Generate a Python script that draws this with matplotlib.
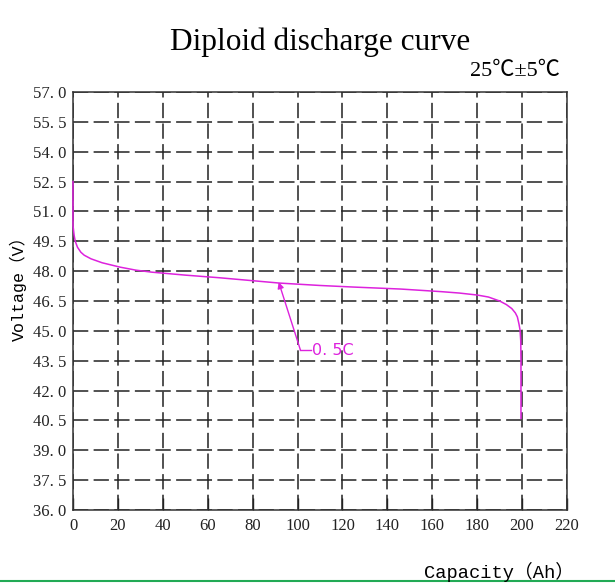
import matplotlib
matplotlib.use("Agg")
import matplotlib.pyplot as plt
from matplotlib.lines import Line2D
import numpy as np

# discharge curve (Ah, V)
capacity = [0, 0, 0.5, 1, 2, 3.5, 5, 8, 13, 21, 28, 35, 50, 65, 80, 92,
            110, 125, 146, 164, 172, 180, 185, 190, 193, 195.4, 197, 197.9,
            198.6, 199.1, 199.4, 199.5, 199.5]
voltage = [52.5, 50.3, 49.8, 49.5, 49.2, 48.95, 48.8, 48.62, 48.42, 48.2,
           48.05, 47.95, 47.8, 47.67, 47.52, 47.4, 47.28, 47.2, 47.1, 46.97,
           46.9, 46.8, 46.7, 46.5, 46.32, 46.12, 45.9, 45.7, 45.35, 45.04,
           44.5, 43.5, 40.6]

x_ticks = [0, 20, 40, 60, 80, 100, 120, 140, 160, 180, 200, 220]
y_ticks = [36.0, 37.5, 39.0, 40.5, 42.0, 43.5, 45.0, 46.5, 48.0, 49.5,
           51.0, 52.5, 54.0, 55.5, 57.0]

rate_label = "0. 5C"
rate_tip = (91.6, 47.45)
rate_tail = (101.3, 44.03)

magenta = "#dd22dd"
serif = ["Liberation Serif", "Noto Sans CJK SC", "DejaVu Sans"]
mono = ["Liberation Mono", "Noto Sans CJK SC", "DejaVu Sans"]

fig = plt.figure(figsize=(6.15, 5.83), dpi=100)
ax = fig.add_axes([73/615, 73/583, (567-73)/615, (510-92)/583])

ax.plot(capacity, voltage, color=magenta, lw=1.1, zorder=5, clip_on=False)

ax.set_xlim(0, 220)
ax.set_ylim(36, 57)
ax.set_xticks(x_ticks)
ax.set_yticks(y_ticks)
ax.set_xticklabels([str(v) for v in x_ticks], family=serif, fontsize=12)
ax.set_yticklabels([f"{v:.1f}".replace(".", ". ") for v in y_ticks],
                   family=serif, fontsize=12)
ax.tick_params(axis="x", direction="in", length=9, width=1, pad=6,
               colors="#222222")
ax.tick_params(axis="y", direction="in", length=0, pad=5, colors="#222222")
ax.grid(True, color="#222222", lw=1.1, linestyle=(0, (10, 3.5)))
for s in ax.spines.values():
    s.set_color("#333333")
    s.set_linewidth(1.1)

# rate annotation
ax.annotate("", xy=rate_tip, xytext=rate_tail,
            arrowprops=dict(arrowstyle="-|>", color=magenta, lw=1,
                            mutation_scale=9, shrinkA=0, shrinkB=0))
ax.plot([rate_tail[0], rate_tail[0] + 4.5], [rate_tail[1], rate_tail[1]],
        color=magenta, lw=1)
ax.text(rate_tail[0] + 5, rate_tail[1], rate_label, color=magenta,
        fontsize=11.5, va="center", ha="left", family="DejaVu Sans")

fig.text(320/615, 1 - 42/583, "Diploid discharge curve", family=serif,
         fontsize=22.5, ha="center", va="center")
fig.text(515/615, 1 - 71/583, "25℃±5℃", family=serif,
         fontsize=16, ha="center", va="center")
fig.text(499/615, 1 - 572/583, "Capacity（Ah）", family=mono,
         fontsize=13.5, ha="center", va="center")
fig.text(18/615, 1 - 284/583, "Voltage（V）", family=mono,
         fontsize=12, ha="center", va="center", rotation=90)

fig.add_artist(Line2D([0, 1], [2/583, 2/583], color="#22aa55", lw=1.5))

fig.savefig("out.png", dpi=100)
